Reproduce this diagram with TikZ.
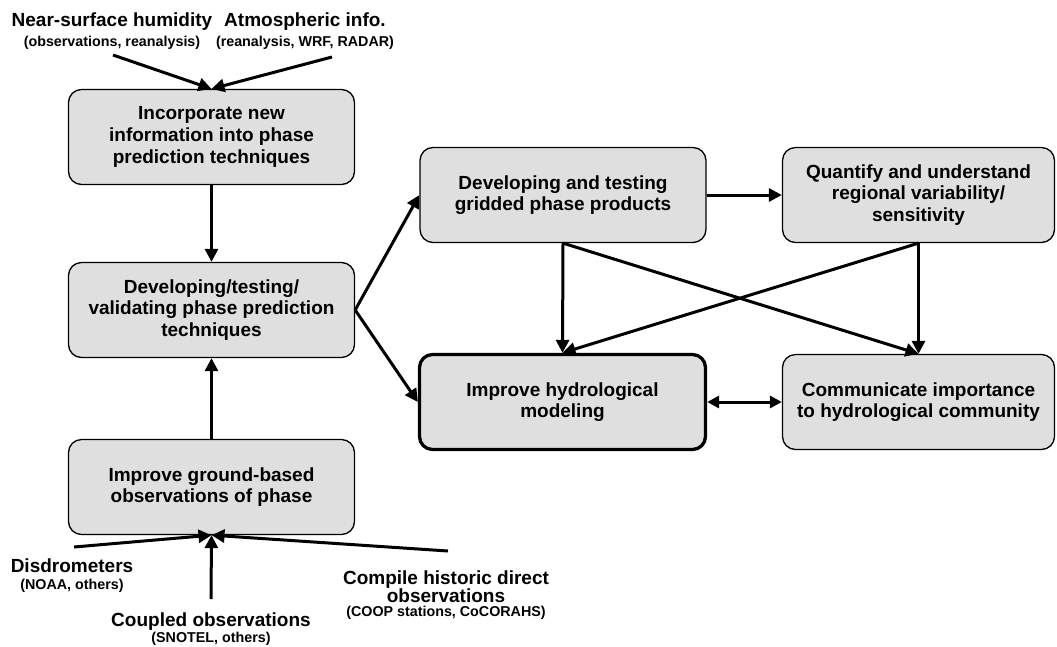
\documentclass[tikz,border=0pt]{standalone}
\usepackage{fontspec}
\setmainfont{Liberation Sans}
\usetikzlibrary{arrows.meta}

\newcommand{\srcnote}[1]{{\fontsize{14.3}{14}\selectfont #1}}

\begin{document}
\begin{tikzpicture}[
  x=1pt, y=-1pt,
  box/.style={draw, fill=gray!25, rounded corners=13pt, align=center, minimum width=286pt, minimum height=95pt, line width=1.3pt, inner sep=4pt, font=\fontsize{19}{21.7}\selectfont\bfseries},
  keybox/.style={box, line width=3.3pt},
  src/.style={align=center, inner sep=0pt, anchor=north, font=\fontsize{19}{19}\selectfont\bfseries},
  arr/.style={-{Triangle[length=13pt,width=13pt]}, line width=3pt},
  dblarr/.style={{Triangle[length=12pt,width=12pt]}-{Triangle[length=12pt,width=12pt]}, line width=3pt}
]
\useasboundingbox (0,0) rectangle (1057,646);

% left column
\node[box] (inc) at (211.5,137) {Incorporate new\\information into phase\\prediction techniques};
\node[box] (dev) at (211.5,310) {Developing/testing/\\validating phase prediction\\techniques};
\node[box] (grd) at (211.5,487) {Improve ground-based\\observations of phase};

% right part
\node[box] (grid) at (563,195) {Developing and testing\\gridded phase products};
\node[box, minimum width=272pt] (quant) at (918.5,195) {Quantify and understand\\regional variability/\\sensitivity};
\node[keybox] (hydro) at (562.5,402) {Improve hydrological\\modeling};
\node[box, minimum width=272pt] (comm) at (918.5,402) {Communicate importance\\to hydrological community};

% inputs
\node[src] (humlab) at (112,13) {Near-surface humidity\\[1pt]\srcnote{(observations, reanalysis)}};
\node[src] (atmlab) at (305,13) {Atmospheric info.\\[1pt]\srcnote{(reanalysis, WRF, RADAR)}};
\node[src] (dislab) at (72,559) {Disdrometers\\[-2pt]\srcnote{(NOAA, others)}};
\node[src] (cpllab) at (211,613) {Coupled observations\\[-3pt]\srcnote{(SNOTEL, others)}};
\node[src] (cmplab) at (446,571) {Compile historic direct\\[-1pt]observations\\[-5pt]\srcnote{(COOP stations, CoCORAHS)}};

\coordinate (hum) at (113,55);
\coordinate (atm) at (332,57);
\coordinate (dis) at (74,547);
\coordinate (cpl) at (211,599);
\coordinate (cmp) at (448,551);

\draw[arr] (hum) -- (inc.north);
\draw[arr] (atm) -- (inc.north);
\draw[arr] (inc) -- (dev);
\draw[arr] (grd) -- (dev);
\draw[arr] (dis) -- (grd.south);
\draw[arr] (cpl) -- (grd.south);
\draw[arr] (cmp) -- (grd.south);

\draw[arr] (dev.east) -- (grid.west);
\draw[arr] (dev.east) -- (hydro.west);
\draw[arr] (grid) -- (quant);
\draw[arr] (grid.south) -- (hydro.north);
\draw[arr] (grid.south) -- (comm.north);
\draw[arr] (quant.south) -- (hydro.north);
\draw[arr] (quant.south) -- (comm.north);
\draw[dblarr] (hydro) -- (comm);

\end{tikzpicture}
\end{document}
